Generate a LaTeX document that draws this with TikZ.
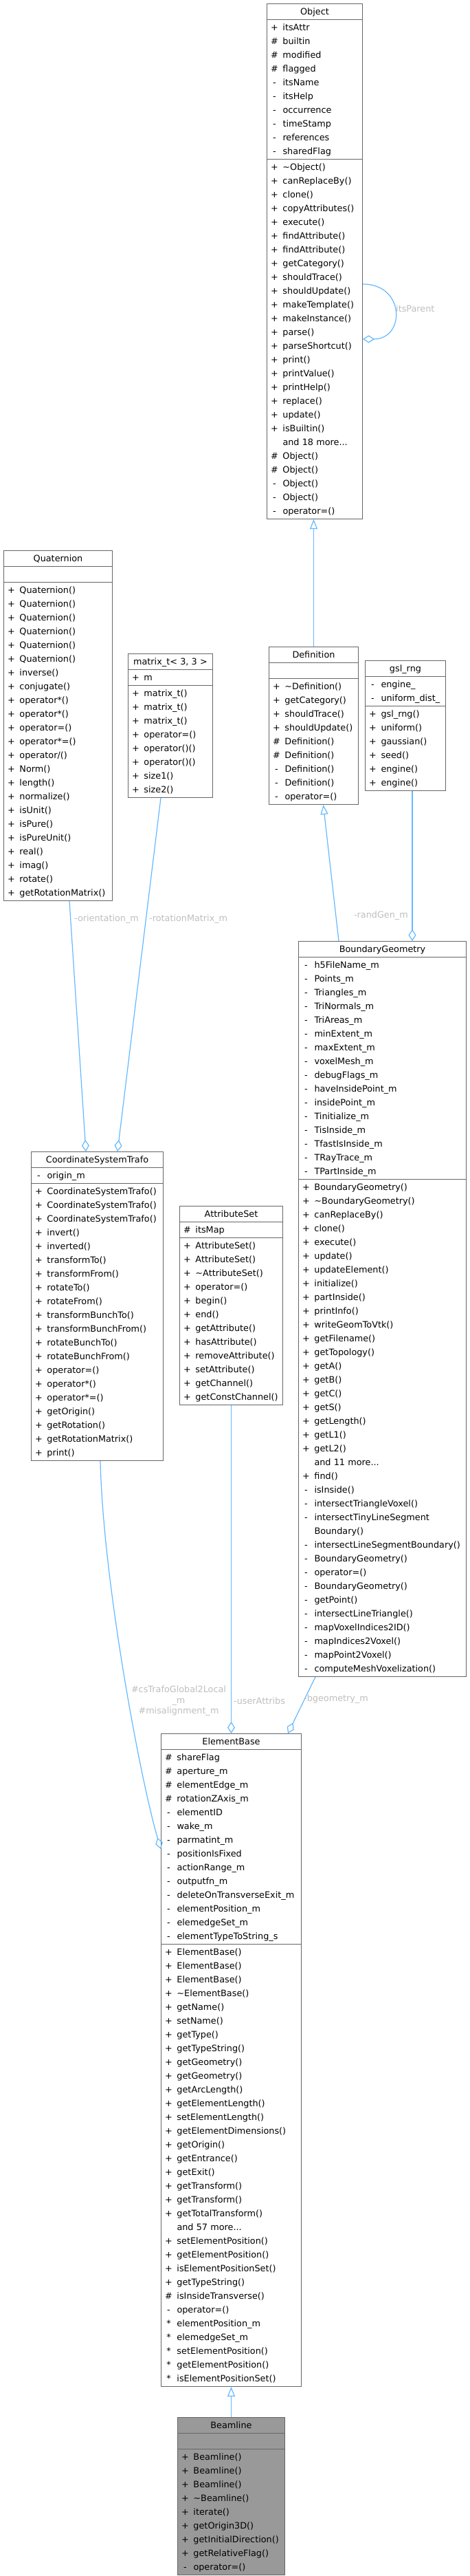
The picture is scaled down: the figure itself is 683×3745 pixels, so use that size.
\documentclass[tikz,border=0pt]{standalone}
\usepackage{fontspec}
\setmainfont{DejaVu Sans}
\usetikzlibrary{shapes.multipart,arrows.meta,calc}
\definecolor{boxline}{RGB}{102,102,102}
\definecolor{edgeblue}{RGB}{99,184,255}
\definecolor{lblgray}{RGB}{190,190,190}
\definecolor{basefill}{RGB}{153,153,153}
% one row of a class box: visibility mark, then the member
\newcommand{\rw}[2]{\makebox[22pt][c]{#1}\hspace{1pt}#2\strut}
\newcommand{\hd}[1]{\makebox[\linewidth][c]{\strut #1}}
\tikzset{
  cls/.style={rectangle split, rectangle split parts=3, draw=boxline, fill=white,
    line width=1pt, inner xsep=0pt, inner ysep=1pt, anchor=north west,
    text width=#1, font=\fontsize{12.8}{20}\selectfont},
  inh/.style={draw=edgeblue, line width=1.2pt, -{Triangle[open,length=14pt,width=11pt]}},
  agg/.style={draw=edgeblue, line width=1.2pt, -{Diamond[open,length=17pt,width=11pt]}},
  lbl/.style={text=lblgray, font=\fontsize{12.8}{15.4}\selectfont, inner sep=0pt},
}
\begin{document}
\begin{tikzpicture}[x=1pt,y=-1pt]
\useasboundingbox (0,0) rectangle (683,3745);

% classes
\node (obj) [cls=139pt] at (388,5) {\hd{Object}
  \nodepart{two}\rw{+}{itsAttr}\\ \rw{\#}{builtin}\\ \rw{\#}{modified}\\ \rw{\#}{flagged}\\
  \rw{-}{itsName}\\ \rw{-}{itsHelp}\\ \rw{-}{occurrence}\\ \rw{-}{timeStamp}\\
  \rw{-}{references}\\ \rw{-}{sharedFlag}
  \nodepart{three}\rw{+}{\textasciitilde Object()}\\ \rw{+}{canReplaceBy()}\\ \rw{+}{clone()}\\
  \rw{+}{copyAttributes()}\\ \rw{+}{execute()}\\ \rw{+}{findAttribute()}\\ \rw{+}{findAttribute()}\\
  \rw{+}{getCategory()}\\ \rw{+}{shouldTrace()}\\ \rw{+}{shouldUpdate()}\\ \rw{+}{makeTemplate()}\\
  \rw{+}{makeInstance()}\\ \rw{+}{parse()}\\ \rw{+}{parseShortcut()}\\ \rw{+}{print()}\\
  \rw{+}{printValue()}\\ \rw{+}{printHelp()}\\ \rw{+}{replace()}\\ \rw{+}{update()}\\
  \rw{+}{isBuiltin()}\\ \rw{}{and 18 more...}\\ \rw{\#}{Object()}\\ \rw{\#}{Object()}\\
  \rw{-}{Object()}\\ \rw{-}{Object()}\\ \rw{-}{operator=()}};

\node (quat) [cls=158pt] at (5,800) {\hd{Quaternion}
  \nodepart{two}\strut
  \nodepart{three}\rw{+}{Quaternion()}\\ \rw{+}{Quaternion()}\\ \rw{+}{Quaternion()}\\
  \rw{+}{Quaternion()}\\ \rw{+}{Quaternion()}\\ \rw{+}{Quaternion()}\\ \rw{+}{inverse()}\\
  \rw{+}{conjugate()}\\ \rw{+}{operator*()}\\ \rw{+}{operator*()}\\ \rw{+}{operator=()}\\
  \rw{+}{operator*=()}\\ \rw{+}{operator/()}\\ \rw{+}{Norm()}\\ \rw{+}{length()}\\
  \rw{+}{normalize()}\\ \rw{+}{isUnit()}\\ \rw{+}{isPure()}\\ \rw{+}{isPureUnit()}\\
  \rw{+}{real()}\\ \rw{+}{imag()}\\ \rw{+}{rotate()}\\ \rw{+}{getRotationMatrix()}};

\node (mat) [cls=123pt] at (186,950) {\hd{matrix\_t< 3, 3 >}
  \nodepart{two}\rw{+}{m}
  \nodepart{three}\rw{+}{matrix\_t()}\\ \rw{+}{matrix\_t()}\\ \rw{+}{matrix\_t()}\\
  \rw{+}{operator=()}\\ \rw{+}{operator()()}\\ \rw{+}{operator()()}\\ \rw{+}{size1()}\\
  \rw{+}{size2()}};

\node (def) [cls=130pt] at (391,940) {\hd{Definition}
  \nodepart{two}\strut
  \nodepart{three}\rw{+}{\textasciitilde Definition()}\\ \rw{+}{getCategory()}\\
  \rw{+}{shouldTrace()}\\ \rw{+}{shouldUpdate()}\\ \rw{\#}{Definition()}\\ \rw{\#}{Definition()}\\
  \rw{-}{Definition()}\\ \rw{-}{Definition()}\\ \rw{-}{operator=()}};

\node (gsl) [cls=117pt] at (531,960) {\hd{gsl\_rng}
  \nodepart{two}\rw{-}{engine\_}\\ \rw{-}{uniform\_dist\_}
  \nodepart{three}\rw{+}{gsl\_rng()}\\ \rw{+}{uniform()}\\ \rw{+}{gaussian()}\\
  \rw{+}{seed()}\\ \rw{+}{engine()}\\ \rw{+}{engine()}};

\node (bg) [cls=244pt] at (434,1368) {\hd{BoundaryGeometry}
  \nodepart{two}\rw{-}{h5FileName\_m}\\ \rw{-}{Points\_m}\\ \rw{-}{Triangles\_m}\\
  \rw{-}{TriNormals\_m}\\ \rw{-}{TriAreas\_m}\\ \rw{-}{minExtent\_m}\\ \rw{-}{maxExtent\_m}\\
  \rw{-}{voxelMesh\_m}\\ \rw{-}{debugFlags\_m}\\ \rw{-}{haveInsidePoint\_m}\\
  \rw{-}{insidePoint\_m}\\ \rw{-}{Tinitialize\_m}\\ \rw{-}{TisInside\_m}\\
  \rw{-}{TfastIsInside\_m}\\ \rw{-}{TRayTrace\_m}\\ \rw{-}{TPartInside\_m}
  \nodepart{three}\rw{+}{BoundaryGeometry()}\\ \rw{+}{\textasciitilde BoundaryGeometry()}\\
  \rw{+}{canReplaceBy()}\\ \rw{+}{clone()}\\ \rw{+}{execute()}\\ \rw{+}{update()}\\
  \rw{+}{updateElement()}\\ \rw{+}{initialize()}\\ \rw{+}{partInside()}\\ \rw{+}{printInfo()}\\
  \rw{+}{writeGeomToVtk()}\\ \rw{+}{getFilename()}\\ \rw{+}{getTopology()}\\ \rw{+}{getA()}\\
  \rw{+}{getB()}\\ \rw{+}{getC()}\\ \rw{+}{getS()}\\ \rw{+}{getLength()}\\ \rw{+}{getL1()}\\
  \rw{+}{getL2()}\\ \rw{}{and 11 more...}\\ \rw{+}{find()}\\ \rw{-}{isInside()}\\
  \rw{-}{intersectTriangleVoxel()}\\ \rw{-}{intersectTinyLineSegment}\\ \rw{}{Boundary()}\\
  \rw{-}{intersectLineSegmentBoundary()}\\ \rw{-}{BoundaryGeometry()}\\ \rw{-}{operator=()}\\
  \rw{-}{BoundaryGeometry()}\\ \rw{-}{getPoint()}\\ \rw{-}{intersectLineTriangle()}\\
  \rw{-}{mapVoxelIndices2ID()}\\ \rw{-}{mapIndices2Voxel()}\\ \rw{-}{mapPoint2Voxel()}\\
  \rw{-}{computeMeshVoxelization()}};

\node (cst) [cls=192pt] at (45,1674) {\hd{CoordinateSystemTrafo}
  \nodepart{two}\rw{-}{origin\_m}
  \nodepart{three}\rw{+}{CoordinateSystemTrafo()}\\ \rw{+}{CoordinateSystemTrafo()}\\
  \rw{+}{CoordinateSystemTrafo()}\\ \rw{+}{invert()}\\ \rw{+}{inverted()}\\
  \rw{+}{transformTo()}\\ \rw{+}{transformFrom()}\\ \rw{+}{rotateTo()}\\ \rw{+}{rotateFrom()}\\
  \rw{+}{transformBunchTo()}\\ \rw{+}{transformBunchFrom()}\\ \rw{+}{rotateBunchTo()}\\
  \rw{+}{rotateBunchFrom()}\\ \rw{+}{operator=()}\\ \rw{+}{operator*()}\\ \rw{+}{operator*=()}\\
  \rw{+}{getOrigin()}\\ \rw{+}{getRotation()}\\ \rw{+}{getRotationMatrix()}\\ \rw{+}{print()}};

\node (aset) [cls=150pt] at (261,1753) {\hd{AttributeSet}
  \nodepart{two}\rw{\#}{itsMap}
  \nodepart{three}\rw{+}{AttributeSet()}\\ \rw{+}{AttributeSet()}\\ \rw{+}{\textasciitilde AttributeSet()}\\
  \rw{+}{operator=()}\\ \rw{+}{begin()}\\ \rw{+}{end()}\\ \rw{+}{getAttribute()}\\
  \rw{+}{hasAttribute()}\\ \rw{+}{removeAttribute()}\\ \rw{+}{setAttribute()}\\
  \rw{+}{getChannel()}\\ \rw{+}{getConstChannel()}};

\node (eb) [cls=204pt] at (234,2520) {\hd{ElementBase}
  \nodepart{two}\rw{\#}{shareFlag}\\ \rw{\#}{aperture\_m}\\ \rw{\#}{elementEdge\_m}\\
  \rw{\#}{rotationZAxis\_m}\\ \rw{-}{elementID}\\ \rw{-}{wake\_m}\\ \rw{-}{parmatint\_m}\\
  \rw{-}{positionIsFixed}\\ \rw{-}{actionRange\_m}\\ \rw{-}{outputfn\_m}\\
  \rw{-}{deleteOnTransverseExit\_m}\\ \rw{-}{elementPosition\_m}\\ \rw{-}{elemedgeSet\_m}\\
  \rw{-}{elementTypeToString\_s}
  \nodepart{three}\rw{+}{ElementBase()}\\ \rw{+}{ElementBase()}\\ \rw{+}{ElementBase()}\\
  \rw{+}{\textasciitilde ElementBase()}\\ \rw{+}{getName()}\\ \rw{+}{setName()}\\ \rw{+}{getType()}\\
  \rw{+}{getTypeString()}\\ \rw{+}{getGeometry()}\\ \rw{+}{getGeometry()}\\ \rw{+}{getArcLength()}\\
  \rw{+}{getElementLength()}\\ \rw{+}{setElementLength()}\\ \rw{+}{getElementDimensions()}\\
  \rw{+}{getOrigin()}\\ \rw{+}{getEntrance()}\\ \rw{+}{getExit()}\\ \rw{+}{getTransform()}\\
  \rw{+}{getTransform()}\\ \rw{+}{getTotalTransform()}\\ \rw{}{and 57 more...}\\
  \rw{+}{setElementPosition()}\\ \rw{+}{getElementPosition()}\\ \rw{+}{isElementPositionSet()}\\
  \rw{+}{getTypeString()}\\ \rw{\#}{isInsideTransverse()}\\ \rw{-}{operator=()}\\
  \rw{*}{elementPosition\_m}\\ \rw{*}{elemedgeSet\_m}\\ \rw{*}{setElementPosition()}\\
  \rw{*}{getElementPosition()}\\ \rw{*}{isElementPositionSet()}};

\node (bl) [cls=156pt, fill=basefill] at (258,3514) {\hd{Beamline}
  \nodepart{two}\strut
  \nodepart{three}\rw{+}{Beamline()}\\ \rw{+}{Beamline()}\\ \rw{+}{Beamline()}\\
  \rw{+}{\textasciitilde Beamline()}\\ \rw{+}{iterate()}\\ \rw{+}{getOrigin3D()}\\
  \rw{+}{getInitialDirection()}\\ \rw{+}{getRelativeFlag()}\\ \rw{-}{operator=()}};

% inheritance
\draw [inh] (def.north) -- (def.north |- obj.south);
\draw [inh] ($(bg.north west)+(59,0)$) -- ($(def.south)+(14,0)$);
\draw [inh] (bl.north) -- (bl.north |- eb.south);

% members
\draw [agg] ($(obj.north east)+(0,408)$) .. controls +(62,0) and +(62,0) .. ($(obj.north east)+(0,488)$);
\node [lbl, anchor=west] (lparent) at (576,449) {itsParent};
\draw [agg] ($(gsl.south west)+(69,0)$) -- ($(bg.north west)+(166,0)$);
\node [lbl, anchor=east] (lrand) at (594,1331) {-randGen\_m};
\draw [agg] ($(quat.south west)+(96,0)$) -- ($(cst.north west)+(80,0)$);
\node [lbl, anchor=west] (lorient) at (108,1336) {-orientation\_m};
\draw [agg] ($(mat.south west)+(48,0)$) -- ($(cst.north west)+(126,0)$);
\node [lbl, anchor=west] (lrot) at (217,1336) {-rotationMatrix\_m};
\draw [agg] (aset.south) -- (eb.north);
\node [lbl, anchor=west] (lattr) at (340,2473) {-userAttribs};
\draw [agg] ($(cst.south west)+(101,0)$) .. controls (150,2300) and (205,2590) .. ($(eb.north west)+(0,168)$);
\node [lbl, align=center] (lcst) at (260,2473) {\#csTrafoGlobal2Local\\\_m\\\#misalignment\_m};
\draw [agg] ($(bg.south west)+(25,0)$) -- ($(eb.north east)+(-20,0)$);
\node [lbl, anchor=west] (lgeom) at (442,2470) {-bgeometry\_m};
\end{tikzpicture}
\end{document}
